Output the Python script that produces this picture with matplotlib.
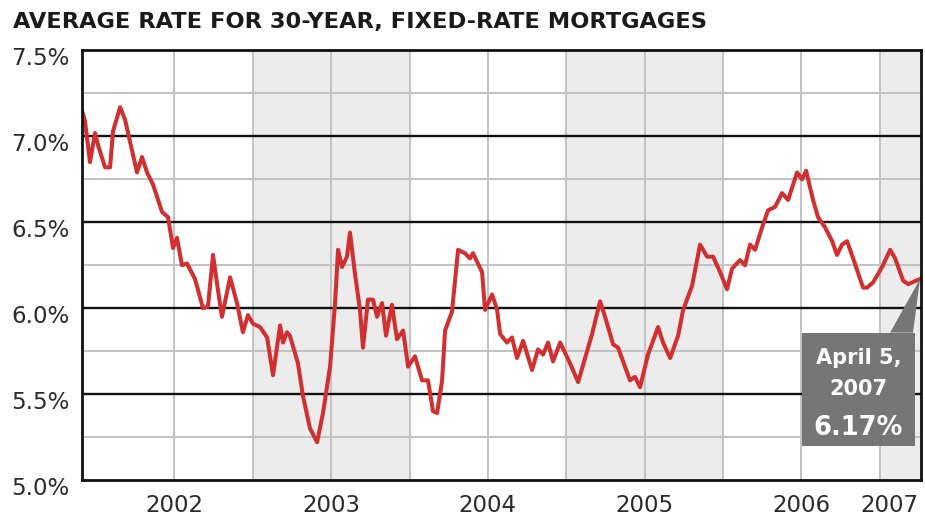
import matplotlib
matplotlib.use("Agg")
import matplotlib.pyplot as plt
import matplotlib.transforms as mtransforms
from matplotlib.patches import Rectangle, Polygon

# Weekly 30-year fixed mortgage rate (decimal year, percent)
dates = [
    2001.910, 2001.929, 2001.961, 2001.993, 2002.012, 2002.057, 2002.089, 2002.108,
    2002.153, 2002.184, 2002.216, 2002.261, 2002.293, 2002.325, 2002.363, 2002.421,
    2002.459, 2002.491, 2002.516, 2002.548, 2002.580, 2002.631, 2002.682, 2002.714,
    2002.746, 2002.772, 2002.803, 2002.855, 2002.899, 2002.937, 2002.969, 2003.001,
    2003.046, 2003.091, 2003.129, 2003.174, 2003.193, 2003.218, 2003.237, 2003.288,
    2003.320, 2003.365, 2003.410, 2003.448, 2003.493, 2003.525, 2003.544, 2003.569,
    2003.601, 2003.620, 2003.652, 2003.684, 2003.703, 2003.735, 2003.767, 2003.793,
    2003.825, 2003.850, 2003.888, 2003.920, 2003.959, 2003.991, 2004.035, 2004.080,
    2004.118, 2004.150, 2004.176, 2004.208, 2004.227, 2004.271, 2004.310, 2004.354,
    2004.386, 2004.405, 2004.463, 2004.482, 2004.527, 2004.559, 2004.578, 2004.622,
    2004.654, 2004.686, 2004.725, 2004.782, 2004.820, 2004.852, 2004.884, 2004.916,
    2004.961, 2005.024, 2005.076, 2005.165, 2005.216, 2005.248, 2005.299, 2005.331,
    2005.407, 2005.439, 2005.471, 2005.522, 2005.586, 2005.618, 2005.663, 2005.714,
    2005.746, 2005.803, 2005.854, 2005.899, 2005.937, 2005.982, 2006.026, 2006.058,
    2006.109, 2006.141, 2006.173, 2006.205, 2006.250, 2006.288, 2006.333, 2006.377,
    2006.416, 2006.473, 2006.505, 2006.531, 2006.575, 2006.607, 2006.652, 2006.697,
    2006.728, 2006.760, 2006.792, 2006.831, 2006.894, 2006.920, 2006.958, 2007.016,
    2007.067, 2007.099, 2007.150, 2007.182, 2007.258,
]
rates = [
    7.15, 7.09, 6.85, 7.02, 6.95, 6.82, 6.82, 7.03,
    7.17, 7.10, 6.97, 6.79, 6.88, 6.79, 6.72, 6.56,
    6.53, 6.35, 6.41, 6.25, 6.26, 6.17, 6.00, 6.01,
    6.31, 6.14, 5.95, 6.18, 6.03, 5.86, 5.96, 5.91,
    5.89, 5.83, 5.61, 5.90, 5.80, 5.86, 5.84, 5.68,
    5.49, 5.30, 5.22, 5.39, 5.66, 6.03, 6.34, 6.24,
    6.30, 6.44, 6.20, 5.99, 5.77, 6.05, 6.05, 5.95,
    6.03, 5.84, 6.02, 5.82, 5.87, 5.66, 5.72, 5.58,
    5.58, 5.40, 5.39, 5.58, 5.87, 5.98, 6.34, 6.32,
    6.29, 6.32, 6.21, 5.99, 6.08, 5.99, 5.85, 5.80,
    5.83, 5.71, 5.81, 5.64, 5.76, 5.73, 5.80, 5.69,
    5.80, 5.68, 5.57, 5.85, 6.04, 5.95, 5.79, 5.77,
    5.58, 5.60, 5.54, 5.73, 5.89, 5.80, 5.71, 5.84,
    5.99, 6.13, 6.37, 6.30, 6.30, 6.21, 6.11, 6.23,
    6.28, 6.25, 6.37, 6.34, 6.47, 6.57, 6.59, 6.67,
    6.63, 6.79, 6.75, 6.80, 6.63, 6.53, 6.47, 6.39,
    6.31, 6.37, 6.39, 6.29, 6.12, 6.12, 6.15, 6.24,
    6.34, 6.29, 6.16, 6.14, 6.17,
]

year_labels = ["2002", "2003", "2004", "2005", "2006", "2007"]
shaded_years = [2003, 2005, 2007]
y_ticks = [5.0, 5.5, 6.0, 6.5, 7.0, 7.5]
y_tick_labels = ["5.0%", "5.5%", "6.0%", "6.5%", "7.0%", "7.5%"]
title = "AVERAGE RATE FOR 30-YEAR, FIXED-RATE MORTGAGES"
callout_lines = ["April 5,", "2007"]
callout_value = "6.17%"

x_min, x_max = 2001.910, 2007.264
y_min, y_max = 5.0, 7.5

RED = "#d12f30"
TEXT = "#2b2b2b"
GRID = "#c2c2c2"
SHADE = "#ececec"
BOX = "#767676"

fig = plt.figure(figsize=(9.25, 5.23), dpi=100)
ax = fig.add_axes([82 / 925, 1 - 480 / 523, (921 - 82) / 925, (480 - 50.5) / 523])
ax.set_xlim(x_min, x_max)
ax.set_ylim(y_min, y_max)

# alternating year bands
for yr in shaded_years:
    ax.axvspan(yr, min(yr + 1, x_max), color=SHADE, lw=0, zorder=0)

# half-year vertical grid
half = 2002.5
while half < x_max:
    ax.axvline(half, color=GRID, lw=1.4, zorder=1)
    half += 0.5

# quarter-point horizontal grid, half-point lines in black
for k in range(1, 10):
    v = y_min + 0.25 * k
    if k % 2 == 0:
        ax.axhline(v, color="#111111", lw=1.7, zorder=2)
    else:
        ax.axhline(v, color=GRID, lw=1.4, zorder=1)

ax.plot(dates, rates, color=RED, lw=2.9, solid_joinstyle="round",
        solid_capstyle="round", zorder=3)

for s in ax.spines.values():
    s.set_color("#111111")
    s.set_linewidth(2.0)
    s.set_zorder(5)

# axis labels: mid-year for full years, the partial final year kept inside the frame
ax.set_yticks(y_ticks)
ax.set_yticklabels(y_tick_labels)
first_year = int(year_labels[0])
xpos = [first_year + i + 0.5 for i in range(len(year_labels) - 1)]
xpos.append(x_max - 0.2)
ax.set_xticks(xpos)
ax.set_xticklabels(year_labels)
ax.tick_params(axis="both", length=0, labelsize=16.5, labelcolor=TEXT)
ax.tick_params(axis="y", pad=9)
ax.tick_params(axis="x", pad=10)
down = mtransforms.ScaledTranslation(0, -4 / 72, fig.dpi_scale_trans)
for lab in ax.get_yticklabels():
    lab.set_transform(lab.get_transform() + down)

fig.text(13 / 925, 1 - 22 / 523, title, fontsize=16.2, fontweight="bold",
         color="#1a1a1a", ha="left", va="center")

# callout box for the latest reading
bx0, bx1 = 2006.505, 2007.226
by0, by1 = 5.195, 5.858
ax.add_patch(Rectangle((bx0, by0), bx1 - bx0, by1 - by0, color=BOX,
                       lw=0, zorder=6))
ax.add_patch(Polygon([(2007.067, by1), (2007.213, by1), (dates[-1], rates[-1])],
                     closed=True, color=BOX, lw=0, zorder=6))
cx = (bx0 + bx1) / 2
ax.text(cx, 5.71, callout_lines[0], color="white", fontsize=15,
        fontweight="bold", ha="center", va="center", zorder=7)
ax.text(cx, 5.53, callout_lines[1], color="white", fontsize=15,
        fontweight="bold", ha="center", va="center", zorder=7)
ax.text(cx, 5.30, callout_value, color="white", fontsize=18.5,
        fontweight="bold", ha="center", va="center", zorder=7)

fig.savefig("out.png", dpi=100)
